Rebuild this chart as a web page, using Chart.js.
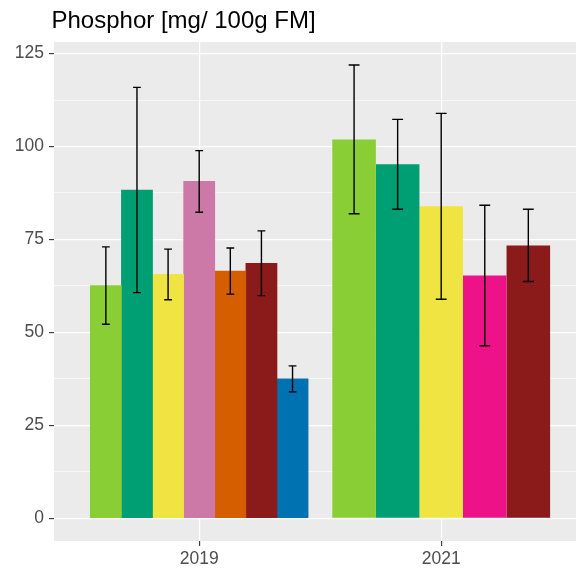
<!DOCTYPE html>
<html>
<head>
<meta charset="utf-8">
<script src="https://cdn.jsdelivr.net/npm/chart.js@4"></script>
<style>
  html, body { margin: 0; padding: 0; background: #ffffff; }
  canvas { display: block; }
</style>
</head>
<body>
<canvas id="chart" width="576" height="574"></canvas>
<script>
// values (mean and error half-width per bar)
const years = ["2019", "2021"];
const means2019 = [62.6, 88.3, 65.6, 90.6, 66.5, 68.6, 37.5];
const errors2019 = [10.4, 27.6, 6.8, 8.3, 6.2, 8.7, 3.5];
const means2021 = [101.9, 95.2, 83.9, 65.3, 73.4];
const errors2021 = [20.0, 12.1, 25.0, 18.9, 9.7];

const colors2019 = ["#8ACE35", "#009E73", "#F0E442", "#CC79A7", "#D55E00", "#8B1A1A", "#0072B2"];
const colors2021 = ["#8ACE35", "#009E73", "#F0E442", "#EE1289", "#8B1A1A"];

const groups = [
    { means: means2019, errors: errors2019, colors: colors2019 },
    { means: means2021, errors: errors2021, colors: colors2021 },
];

const dodgeWidth = 0.9;
const maxBars = Math.max(...groups.map(g => g.means.length));

const datasets = [];
groups.forEach((g, gi) => {
    const n = g.means.length;
    g.means.forEach((m, i) => {
        datasets.push({
            data: [{ x: gi + 1 + (i - (n - 1) / 2) * dodgeWidth / n, y: m }],
            err: g.errors[i],
            backgroundColor: g.colors[i],
            borderWidth: 0,
            categoryPercentage: 1,
            barPercentage: maxBars / n, // wider bars when fewer in the group
        });
    });
});

// grey panel behind the grid
const panelBackground = {
    id: "panelBackground",
    beforeDraw(chart) {
        const { ctx, chartArea: a } = chart;
        ctx.save();
        ctx.fillStyle = "#EBEBEB";
        ctx.fillRect(a.left, a.top, a.right - a.left, a.bottom - a.top);
        ctx.restore();
    },
};

// error bars with small caps
const errorBars = {
    id: "errorBars",
    afterDatasetsDraw(chart) {
        const { ctx } = chart;
        const y = chart.scales.y;
        ctx.save();
        ctx.strokeStyle = "#000000";
        ctx.lineWidth = 1.4;
        chart.data.datasets.forEach((ds, i) => {
            const bar = chart.getDatasetMeta(i).data[0];
            const v = ds.data[0].y;
            const top = y.getPixelForValue(v + ds.err);
            const bot = y.getPixelForValue(v - ds.err);
            const half = bar.width * 0.125;
            ctx.beginPath();
            ctx.moveTo(bar.x, top);
            ctx.lineTo(bar.x, bot);
            ctx.moveTo(bar.x - half, top);
            ctx.lineTo(bar.x + half, top);
            ctx.moveTo(bar.x - half, bot);
            ctx.lineTo(bar.x + half, bot);
            ctx.stroke();
        });
        ctx.restore();
    },
};

// title, left aligned with the panel
const plotTitle = {
    id: "plotTitle",
    afterDraw(chart) {
        const { ctx, chartArea: a } = chart;
        ctx.save();
        ctx.fillStyle = "#000000";
        ctx.font = "24px 'Liberation Sans', Arial, sans-serif";
        ctx.textAlign = "left";
        ctx.textBaseline = "alphabetic";
        ctx.fillText("Phosphor [mg/ 100g FM]", a.left - 2.5, 28);
        ctx.restore();
    },
};

const tickFont = { family: "'Liberation Sans', Arial, sans-serif", size: 17.5 };

new Chart(document.getElementById("chart"), {
    type: "bar",
    data: { datasets },
    options: {
        responsive: false,
        animation: false,
        grouped: false,
        layout: { padding: { top: 42, left: 0, right: 0, bottom: 0 } },
        scales: {
            x: {
                type: "linear",
                min: 0.4,
                max: 2.557,
                offset: false,
                afterBuildTicks(scale) {
                    scale.ticks = years.map((_, i) => ({ value: i + 1 }));
                },
                afterFit(scale) { scale.height = 33; },
                border: { display: false },
                grid: {
                    offset: false,
                    color: "#FFFFFF",
                    lineWidth: 1.2,
                    tickColor: "#333333",
                    tickLength: 5,
                    tickWidth: 1.1,
                },
                ticks: {
                    padding: 3,
                    color: "#4D4D4D",
                    font: tickFont,
                    callback: (v) => years[v - 1] || "",
                },
            },
            y: {
                min: -6.1,
                max: 128.1,
                afterFit(scale) { scale.width = 54; },
                border: { display: false },
                grid: {
                    color: "#FFFFFF",
                    lineWidth: (c) => (c.tick && c.tick.value % 25 === 0 ? 1.2 : 0.6),
                    tickColor: (c) => (c.tick && c.tick.value % 25 === 0 ? "#333333" : "rgba(0,0,0,0)"),
                    tickLength: 5,
                    tickWidth: 1.1,
                },
                ticks: {
                    stepSize: 12.5,
                    includeBounds: false,
                    padding: 5,
                    color: "#4D4D4D",
                    font: tickFont,
                    callback: (v) => (v % 25 === 0 ? String(v) : ""),
                },
            },
        },
        plugins: {
            legend: { display: false },
            tooltip: { enabled: false },
            title: { display: false },
        },
    },
    plugins: [panelBackground, errorBars, plotTitle],
});
</script>
</body>
</html>
